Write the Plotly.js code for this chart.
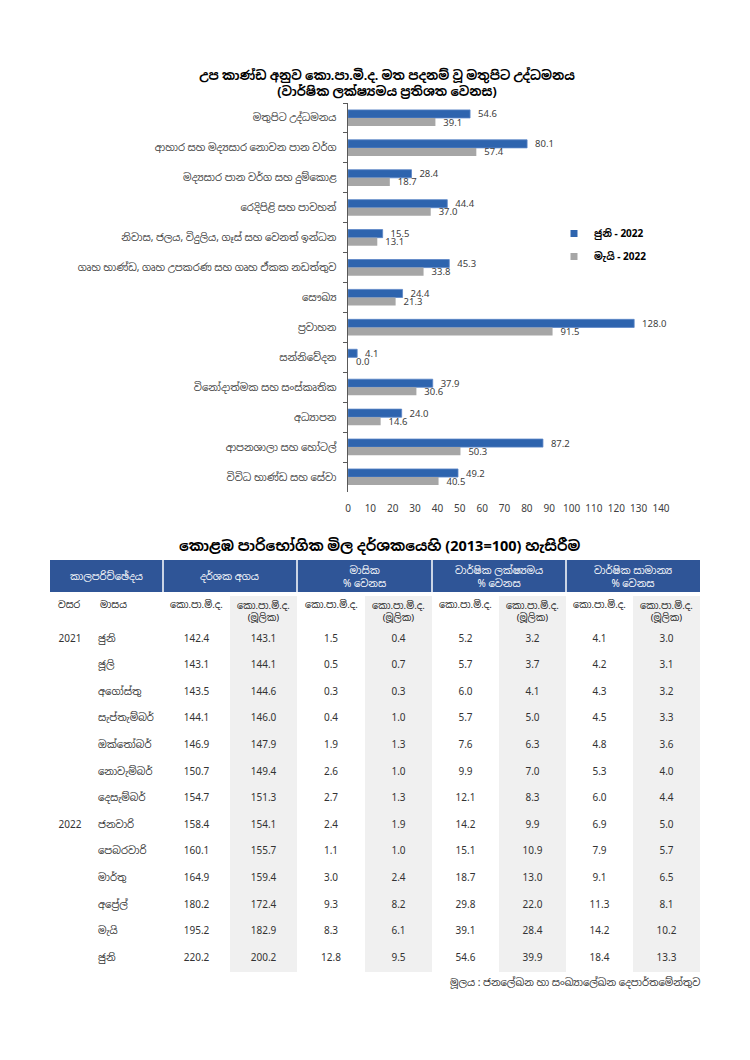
<!DOCTYPE html>
<html>
<head>
<meta charset="utf-8">
<script src="https://cdn.plot.ly/plotly-3.0.1.min.js"></script>
<style>html,body{margin:0;padding:0;background:#fff;}#chart{width:750px;height:1060px;}</style>
</head>
<body>
<div id="chart"></div>
<script>
// ---- Bar chart data ----
const categories = [
  'මතුපිට උද්ධමනය',
  'ආහාර සහ මද්‍යසාර නොවන පාන වර්ග',
  'මද්‍යසාර පාන වර්ග සහ දුම්කොළ',
  'රෙදිපිළි සහ පාවහන්',
  'නිවාස, ජලය, විදුලිය, ගෑස් සහ වෙනත් ඉන්ධන',
  'ගෘහ භාණ්ඩ, ගෘහ උපකරණ සහ ගෘහ ඒකක නඩත්තුව',
  'සෞඛ්‍ය',
  'ප්‍රවාහන',
  'සන්නිවේදන',
  'විනෝදාත්මක සහ සංස්කෘතික',
  'අධ්‍යාපන',
  'ආපනශාලා සහ හෝටල්',
  'විවිධ භාණ්ඩ සහ සේවා'
];
const june2022 = [54.6, 80.1, 28.4, 44.4, 15.5, 45.3, 24.4, 128.0, 4.1, 37.9, 24.0, 87.2, 49.2];
const may2022  = [39.1, 57.4, 18.7, 37.0, 13.1, 33.8, 21.3, 91.5, 0.0, 30.6, 14.6, 50.3, 40.5];
const seriesNames = ['ජුනි - 2022', 'මැයි - 2022'];
const xTicks = [0,10,20,30,40,50,60,70,80,90,100,110,120,130,140];

// ---- Table data ----
const groupHeaders = ['කාලපරිච්ඡේදය', 'දර්ශක අගය', 'මාසික<br>% වෙනස', 'වාර්ෂික ලක්ෂ්‍යමය<br>% වෙනස', 'වාර්ෂික සාමාන්‍ය<br>% වෙනස'];
const subHeaders = ['වසර', 'මාසය', 'කො.පා.මි.ද.', 'කො.පා.මි.ද.<br>(මූලික)', 'කො.පා.මි.ද.', 'කො.පා.මි.ද.<br>(මූලික)', 'කො.පා.මි.ද.', 'කො.පා.මි.ද.<br>(මූලික)', 'කො.පා.මි.ද.', 'කො.පා.මි.ද.<br>(මූලික)'];
const years  = ['2021','','','','','','','2022','','','','',''];
const months = ['ජුනි','ජූලි','අගෝස්තු','සැප්තැම්බර්','ඔක්තෝබර්','නොවැම්බර්','දෙසැම්බර්','ජනවාරි','පෙබරවාරි','මාර්තු','අප්‍රේල්','මැයි','ජුනි'];
const indexCCPI     = [142.4,143.1,143.5,144.1,146.9,150.7,154.7,158.4,160.1,164.9,180.2,195.2,220.2];
const indexCore     = [143.1,144.1,144.6,146.0,147.9,149.4,151.3,154.1,155.7,159.4,172.4,182.9,200.2];
const monthlyCCPI   = [1.5,0.5,0.3,0.4,1.9,2.6,2.7,2.4,1.1,3.0,9.3,8.3,12.8];
const monthlyCore   = [0.4,0.7,0.3,1.0,1.3,1.0,1.3,1.9,1.0,2.4,8.2,6.1,9.5];
const yoyCCPI       = [5.2,5.7,6.0,5.7,7.6,9.9,12.1,14.2,15.1,18.7,29.8,39.1,54.6];
const yoyCore       = [3.2,3.7,4.1,5.0,6.3,7.0,8.3,9.9,10.9,13.0,22.0,28.4,39.9];
const avgCCPI       = [4.1,4.2,4.3,4.5,4.8,5.3,6.0,6.9,7.9,9.1,11.3,14.2,18.4];
const avgCore       = [3.0,3.1,3.2,3.3,3.6,4.0,4.4,5.0,5.7,6.5,8.1,10.2,13.3];

const fmt = a => a.map(v => v.toFixed(1));
const lbl = a => a.map(v => '\u00a0\u00a0' + v.toFixed(1));
const W = 750, H = 1060;
const px = v => v / W;
const py = v => 1 - v / H;

const FONT = 'Noto Sans, "Noto Sans Sinhala", sans-serif';
const BLUE = '#2e64ae', GRAY = '#a6a6a6', HEAD = '#2f5597', SHADE = '#f0f0f0';

// table geometry (layout, not data)
const TX0 = 50, TX1 = 700;
const colW = [40, 73, 67, 67, 68, 67, 67, 67, 67, 67];
const colEdges = colW.reduce((a, w) => (a.push(a[a.length - 1] + w), a), [TX0]);
const groupEdges = [50, 163, 297, 432, 566, 700];
const colFill = ['#fff','#fff','#fff',SHADE,'#fff',SHADE,'#fff',SHADE,'#fff',SHADE];

const traces = [
  {
    type: 'bar', orientation: 'h', name: seriesNames[0], showlegend: false,
    y: categories, x: june2022, constraintext: 'none',
    marker: {color: BLUE, line: {color: '#5b85c6', width: 0.8}},
    text: lbl(june2022), textposition: 'outside', cliponaxis: false,
    textfont: {size: 9.5, color: '#404040', family: FONT}
  },
  {
    type: 'bar', orientation: 'h', name: seriesNames[1], showlegend: false,
    y: categories, x: may2022, constraintext: 'none',
    marker: {color: GRAY},
    text: lbl(may2022), textposition: 'outside', cliponaxis: false,
    textfont: {size: 9.5, color: '#404040', family: FONT}
  },
  // legend entries
  {type: 'scatter', mode: 'markers', name: seriesNames[0], x: [null], y: [null], legendgroup: 'a',
   marker: {symbol: 'square', size: 7, color: BLUE}},
  {type: 'scatter', mode: 'markers', name: seriesNames[1], x: [null], y: [null], legendgroup: 'b',
   marker: {symbol: 'square', size: 7, color: GRAY}},
  {
    type: 'table',
    domain: {x: [px(TX0), px(TX1)], y: [py(978), py(596)]},
    columnwidth: colW,
    header: {
      values: subHeaders.map(() => ''), height: 30,
      fill: {color: colFill},
      line: {color: 'rgba(0,0,0,0)', width: 0}
    },
    cells: {
      values: [years, months, fmt(indexCCPI), fmt(indexCore), fmt(monthlyCCPI), fmt(monthlyCore),
               fmt(yoyCCPI), fmt(yoyCore), fmt(avgCCPI), fmt(avgCore)],
      height: 26.6,
      fill: {color: colFill},
      line: {color: 'rgba(0,0,0,0)', width: 0},
      align: ['center','left','center','center','center','center','center','center','center','center'],
      font: {color: '#333', size: 10, family: FONT}
    }
  }
];

const shapes = [{type: 'rect', xref: 'paper', yref: 'paper', x0: px(TX0), x1: px(TX1), y0: py(592), y1: py(560),
                 fillcolor: HEAD, line: {width: 0}, layer: 'above'}];
groupEdges.slice(1, -1).forEach(e => shapes.push({type: 'line', xref: 'paper', yref: 'paper',
  x0: px(e), x1: px(e), y0: py(592), y1: py(560), line: {color: '#fff', width: 1.5}, layer: 'above'}));

const annotations = [
  {text: '<b>කොළඹ පාරිභෝගික මිල දර්ශකයෙහි (2013=100) හැසිරීම</b>', xref: 'paper', yref: 'paper',
   x: px(379), y: py(545), xanchor: 'center', yanchor: 'middle', showarrow: false,
   font: {size: 14.5, color: '#000'}},
  {text: 'මූලය : ජනලේඛන හා සංඛ්‍යාලේඛන දෙපාර්තමේන්තුව', xref: 'paper', yref: 'paper',
   x: px(702), y: py(982), xanchor: 'right', yanchor: 'middle', showarrow: false,
   font: {size: 10, color: '#333'}}
];
groupHeaders.forEach((t, i) => annotations.push({
  text: t, xref: 'paper', yref: 'paper', x: px((groupEdges[i] + groupEdges[i + 1]) / 2), y: py(576),
  xanchor: 'center', yanchor: 'middle', showarrow: false, align: 'center',
  font: {size: 10, color: '#fff'}
}));
subHeaders.forEach((t, i) => {
  const left = i < 2;
  annotations.push({
    text: t, xref: 'paper', yref: 'paper',
    x: left ? px(colEdges[i] + (i === 0 ? 6 : 8)) : px((colEdges[i] + colEdges[i + 1]) / 2),
    y: py(t.includes('<br>') ? 611 : 604),
    xanchor: left ? 'left' : 'center', yanchor: 'middle', showarrow: false, align: 'center',
    font: {size: 9.5, color: '#222'}
  });
});

const layout = {
  width: W, height: H,
  margin: {l: 0, r: 0, t: 0, b: 0},
  paper_bgcolor: '#fff', plot_bgcolor: '#fff',
  font: {family: FONT, color: '#404040'},
  title: {
    text: '<b>උප කාණ්ඩ අනුව කො.පා.මි.ද. මත පදනම් වූ මතුපිට උද්ධමනය<br>(වාර්ෂික ලක්ෂ්‍යමය ප්‍රතිශත වෙනස)</b>',
    x: px(387), xanchor: 'center', y: py(80), yanchor: 'middle',
    font: {size: 12.5, color: '#000', family: FONT}
  },
  barmode: 'group', bargap: 0.46, bargroupgap: 0,
  xaxis: {
    domain: [px(348), px(661)], range: [0, 140], tickvals: xTicks,
    showgrid: false, zeroline: false, showline: false, ticks: '', ticklabelstandoff: 9,
    tickfont: {size: 10, color: '#404040'}, fixedrange: true
  },
  yaxis: {
    domain: [py(492), py(103)], autorange: 'reversed', type: 'category',
    showline: true, linecolor: '#595959', linewidth: 1.5,
    ticks: 'outside', tickson: 'boundaries', ticklen: 4, tickcolor: '#595959',
    showgrid: false, tickfont: {size: 10, color: '#404040'}, ticklabelstandoff: 8
  },
  showlegend: true,
  legend: {
    x: px(554), y: py(219), xanchor: 'left', yanchor: 'top',
    font: {size: 10, color: '#000', weight: 'bold'}, tracegroupgap: 4,
    bgcolor: 'rgba(0,0,0,0)', itemwidth: 30
  },
  shapes, annotations
};

Plotly.newPlot('chart', traces, layout, {displayModeBar: false, staticPlot: true});
</script>
</body>
</html>
